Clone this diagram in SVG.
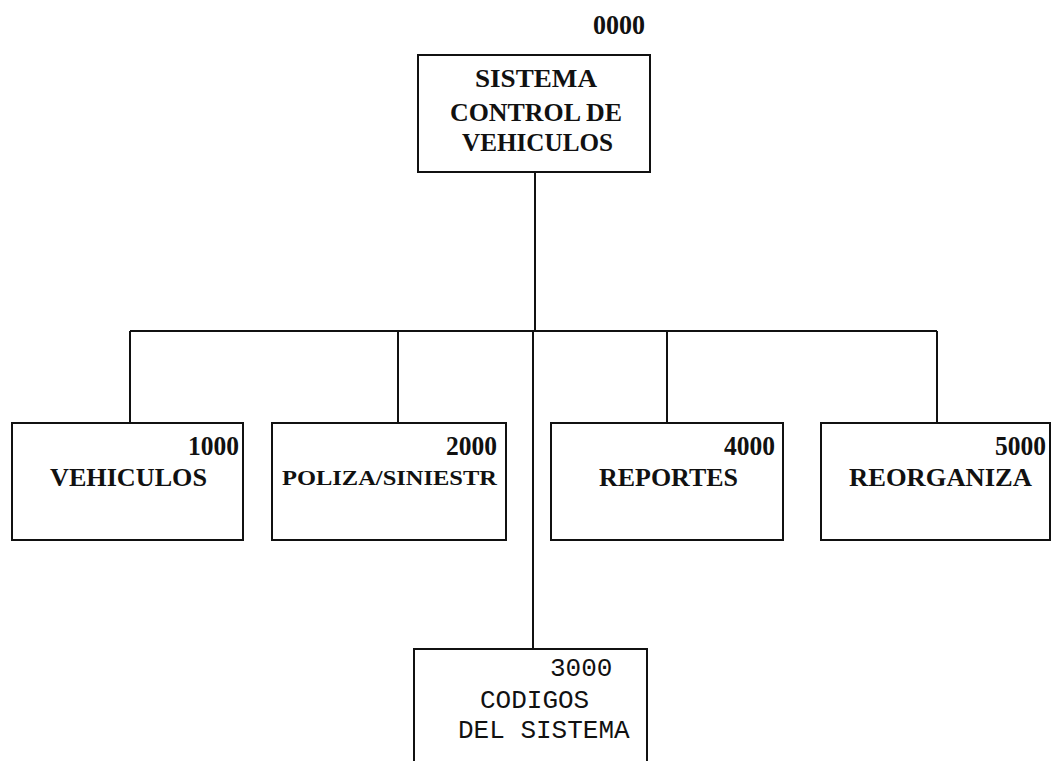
<svg xmlns="http://www.w3.org/2000/svg" width="1054" height="761" viewBox="0 0 1054 761">
<style>
.box{fill:#fff;stroke:#111;stroke-width:2}
.ln{stroke:#111;stroke-width:2;fill:none}
.t{font-family:"Liberation Serif","Times New Roman",serif;font-weight:bold;fill:#111}
.n{font-family:"Liberation Serif","Times New Roman",serif;font-weight:bold;fill:#111;font-size:28px}
.m{font-family:"Liberation Mono","Courier New",monospace;fill:#111;font-size:26px}
</style>
<rect width="1054" height="761" fill="#fff"/>
<g id="connectors">
<line class="ln" x1="535" y1="172" x2="535" y2="331"/>
<line class="ln" x1="130" y1="331" x2="937" y2="331"/>
<line class="ln" x1="130" y1="331" x2="130" y2="423"/>
<line class="ln" x1="398" y1="331" x2="398" y2="423"/>
<line class="ln" x1="667" y1="331" x2="667" y2="423"/>
<line class="ln" x1="937" y1="331" x2="937" y2="423"/>
<line class="ln" x1="533" y1="331" x2="533" y2="649"/>
</g>
<g id="node0000">
<text class="n" x="593" y="34" textLength="52" lengthAdjust="spacingAndGlyphs">0000</text>
<rect class="box" x="418" y="55" width="232" height="117"/>
<text class="t" x="475" y="87" font-size="26" textLength="122" lengthAdjust="spacingAndGlyphs">SISTEMA</text>
<text class="t" x="450" y="121" font-size="26" textLength="172" lengthAdjust="spacingAndGlyphs">CONTROL DE</text>
<text class="t" x="462" y="151" font-size="26" textLength="151" lengthAdjust="spacingAndGlyphs">VEHICULOS</text>
</g>
<g id="node1000">
<rect class="box" x="12" y="423" width="231" height="117"/>
<text class="n" x="188" y="455" textLength="51" lengthAdjust="spacingAndGlyphs">1000</text>
<text class="t" x="50" y="486" font-size="26" textLength="157" lengthAdjust="spacingAndGlyphs">VEHICULOS</text>
</g>
<g id="node2000">
<rect class="box" x="272" y="423" width="234" height="117"/>
<text class="n" x="446" y="455" textLength="51" lengthAdjust="spacingAndGlyphs">2000</text>
<text class="t" x="282" y="485" font-size="22" textLength="215" lengthAdjust="spacingAndGlyphs">POLIZA/SINIESTR</text>
</g>
<g id="node4000">
<rect class="box" x="551" y="423" width="232" height="117"/>
<text class="n" x="724" y="455" textLength="51" lengthAdjust="spacingAndGlyphs">4000</text>
<text class="t" x="599" y="486" font-size="26" textLength="139" lengthAdjust="spacingAndGlyphs">REPORTES</text>
</g>
<g id="node5000">
<rect class="box" x="821" y="423" width="229" height="117"/>
<text class="n" x="995" y="455" textLength="51" lengthAdjust="spacingAndGlyphs">5000</text>
<text class="t" x="849" y="486" font-size="26" textLength="183" lengthAdjust="spacingAndGlyphs">REORGANIZA</text>
</g>
<g id="node3000">
<rect class="box" x="414" y="649" width="233" height="130"/>
<text class="m" x="550" y="676">3000</text>
<text class="m" x="480" y="708">CODIGOS</text>
<text class="m" x="458" y="738">DEL SISTEMA</text>
</g>
</svg>
